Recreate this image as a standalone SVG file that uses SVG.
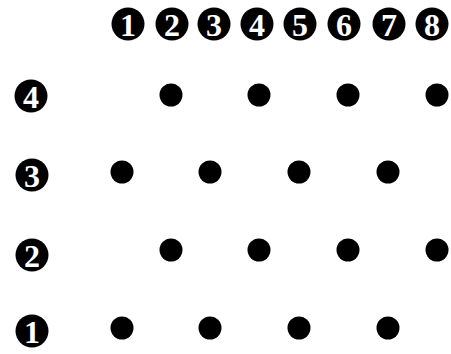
<svg xmlns="http://www.w3.org/2000/svg" width="451" height="354" viewBox="0 0 451 354">
<style>
.lab circle{fill:#000}
.lab text{fill:#fff;font-family:"Liberation Serif","Times New Roman",serif;font-weight:bold;font-size:32px;text-anchor:middle;dominant-baseline:central}
.dot{fill:#000}
</style>
<rect width="451" height="354" fill="#fff"/>
<g id="col1" class="lab"><circle cx="128" cy="24" r="16.5"/><text x="128" y="25">1</text></g>
<g id="col2" class="lab"><circle cx="172" cy="24" r="16.5"/><text x="172" y="25">2</text></g>
<g id="col3" class="lab"><circle cx="214" cy="24" r="16.5"/><text x="214" y="25">3</text></g>
<g id="col4" class="lab"><circle cx="257" cy="24" r="16.5"/><text x="257" y="25">4</text></g>
<g id="col5" class="lab"><circle cx="300" cy="24" r="16.5"/><text x="300" y="25">5</text></g>
<g id="col6" class="lab"><circle cx="344" cy="24" r="16.5"/><text x="344" y="25">6</text></g>
<g id="col7" class="lab"><circle cx="389" cy="24" r="16.5"/><text x="389" y="25">7</text></g>
<g id="col8" class="lab"><circle cx="432" cy="24" r="16.5"/><text x="432" y="25">8</text></g>
<g id="row4" class="lab"><circle cx="31" cy="96" r="16.5"/><text x="31" y="97">4</text></g>
<g id="row3" class="lab"><circle cx="32" cy="175" r="16.5"/><text x="32" y="176">3</text></g>
<g id="row2" class="lab"><circle cx="32" cy="255" r="16.5"/><text x="32" y="256">2</text></g>
<g id="row1" class="lab"><circle cx="32" cy="331" r="16.5"/><text x="32" y="332">1</text></g>
<g id="dots-row4"><circle class="dot" cx="171" cy="95" r="11.5"/><circle class="dot" cx="259" cy="95" r="11.5"/><circle class="dot" cx="348" cy="95" r="11.5"/><circle class="dot" cx="437" cy="95" r="11.5"/></g>
<g id="dots-row3"><circle class="dot" cx="122" cy="172" r="11.5"/><circle class="dot" cx="210" cy="172" r="11.5"/><circle class="dot" cx="299" cy="172" r="11.5"/><circle class="dot" cx="388" cy="172" r="11.5"/></g>
<g id="dots-row2"><circle class="dot" cx="171" cy="250" r="11.5"/><circle class="dot" cx="259" cy="250" r="11.5"/><circle class="dot" cx="348" cy="250" r="11.5"/><circle class="dot" cx="437" cy="250" r="11.5"/></g>
<g id="dots-row1"><circle class="dot" cx="122" cy="328" r="11.5"/><circle class="dot" cx="210" cy="328" r="11.5"/><circle class="dot" cx="299" cy="328" r="11.5"/><circle class="dot" cx="388" cy="328" r="11.5"/></g>
</svg>
